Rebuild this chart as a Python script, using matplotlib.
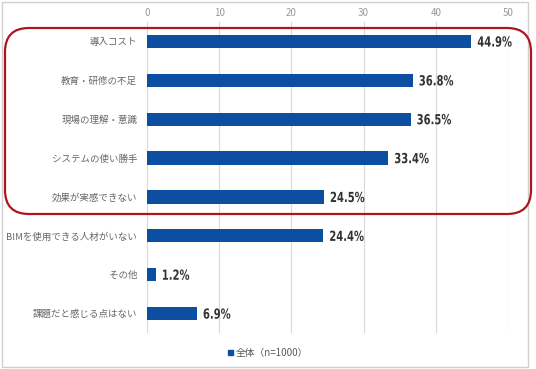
import matplotlib
matplotlib.use("Agg")
import matplotlib.pyplot as plt
from matplotlib.patches import FancyBboxPatch, Rectangle, PathPatch
from matplotlib.textpath import TextPath
from matplotlib.font_manager import FontProperties
from matplotlib.transforms import Affine2D, ScaledTranslation

plt.rcParams['font.family'] = ['Noto Sans CJK JP', 'DejaVu Sans']

categories = ["導入コスト", "教育・研修の不足", "現場の理解・意識", "システムの使い勝手",
              "効果が実感できない", "BIMを使用できる人材がいない", "その他", "課題だと感じる点はない"]
values = [44.9, 36.8, 36.5, 33.4, 24.5, 24.4, 1.2, 6.9]
xticks = [0, 10, 20, 30, 40, 50]
legend_label = "全体（n=1000）"

W, H = 536, 369
DPI = 100
fig = plt.figure(figsize=(W/DPI, H/DPI), dpi=DPI)
ax = fig.add_axes([147/W, 1-333/H, (508-147)/W, (333-22)/H])

bar_color = "#0B4EA2"
ypos = list(range(len(categories)))
ax.barh(ypos, values, height=0.34, color=bar_color, zorder=3, label=legend_label)
ax.set_ylim(len(categories)-0.5, -0.5)
ax.set_xlim(0, 50)
ax.set_xticks(xticks)
ax.xaxis.tick_top()
ax.tick_params(axis='x', length=0, labelsize=7, labelcolor="#999999", pad=3)
ax.set_yticks(ypos)
ax.set_yticklabels(categories)
ax.tick_params(axis='y', length=0, labelsize=6.8, labelcolor="#666666", pad=7)
for s in ax.spines.values():
    s.set_visible(False)
ax.grid(axis='x', color="#d9d9d9", linewidth=0.8, zorder=0)
ax.set_axisbelow(True)

# condensed bold value labels (horizontally squeezed text paths)
fp = FontProperties(family='DejaVu Sans', weight='bold')
size_pt = 10
sx = 0.72
for y, v in zip(ypos, values):
    tp = TextPath((0, 0), f"{v:.1f}%", size=size_pt, prop=fp)
    tr = (Affine2D().translate(0, -0.365 * size_pt).scale(sx * DPI / 72, DPI / 72)
          + ScaledTranslation(v + 0.85, y, ax.transData))
    ax.add_patch(PathPatch(tp, transform=tr, facecolor="#333333", edgecolor="none",
                           zorder=4, clip_on=False))

# legend
fig.legend(handles=[Rectangle((0, 0), 1, 1, color=bar_color)], labels=[legend_label],
           loc='center', bbox_to_anchor=(268/W, 1-353/H), frameon=False,
           fontsize=7, handlelength=0.5, handleheight=0.5, handletextpad=0.3,
           labelcolor="#595959")

# outer frame
fig.patches.append(Rectangle((2/W, 2/H), (528-2)/W, (367-2)/H, transform=fig.transFigure,
                             fill=False, edgecolor="#d0d0d0", linewidth=1))

# red rounded box
x0, x1, y0, y1 = 5, 531, 28, 214
fig.patches.append(FancyBboxPatch((x0, H-y1), x1-x0, y1-y0,
                                  boxstyle="round,pad=0,rounding_size=24",
                                  transform=None, fill=False,
                                  edgecolor="#B0141C", linewidth=1.6, zorder=10))

fig.savefig("out.png", dpi=DPI)
